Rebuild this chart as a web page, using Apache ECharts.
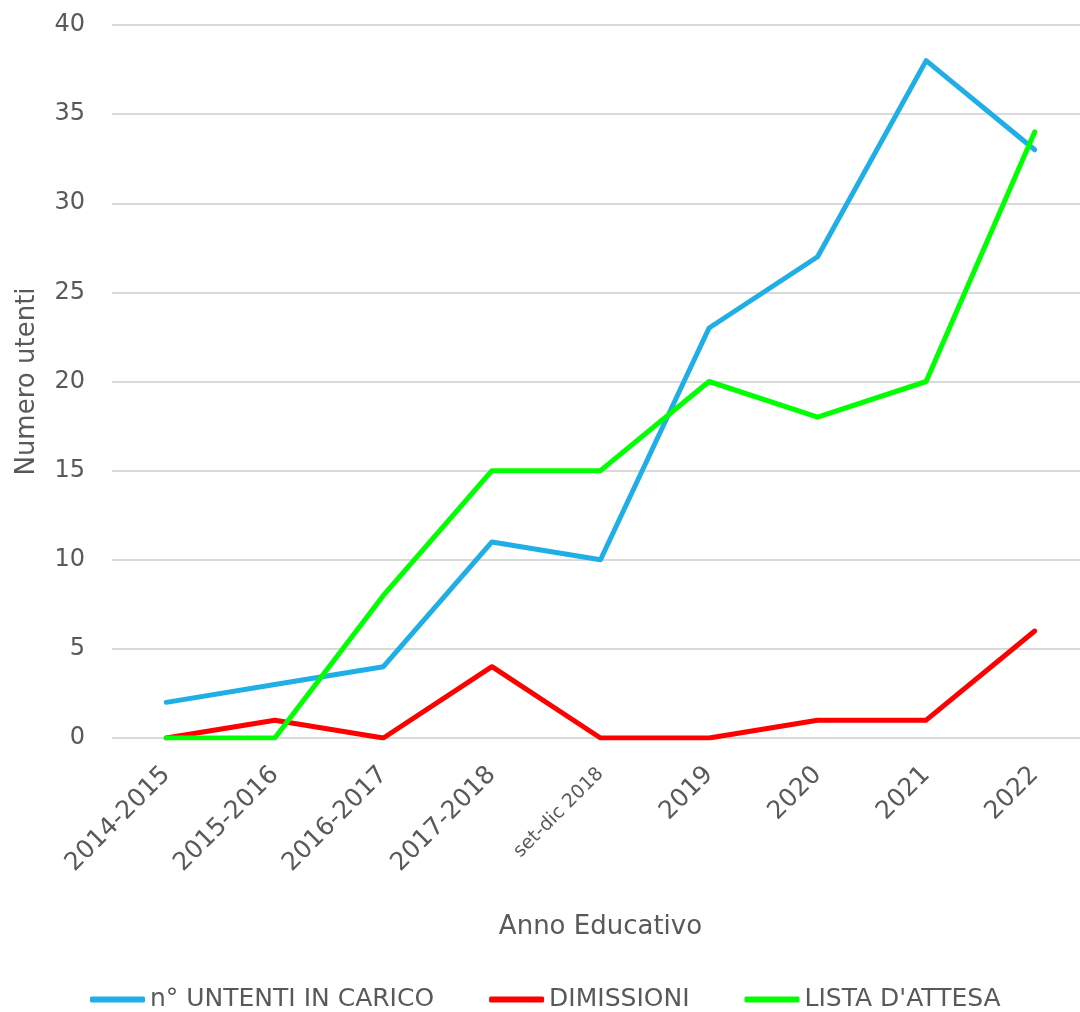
<!DOCTYPE html>
<html>
<head>
<meta charset="utf-8">
<script src="https://cdn.jsdelivr.net/npm/echarts@6/dist/echarts.min.js"></script>
<style>html,body{margin:0;padding:0;background:#fff;overflow:hidden}#c{width:1100px;height:1012px}</style>
</head>
<body>
<div id="c"></div>
<script>
const categories = ['2014-2015','2015-2016','2016-2017','2017-2018','set-dic 2018','2019','2020','2021','2022'];
const utentiInCarico = [2,3,4,11,10,23,27,38,33];
const dimissioni = [0,1,0,4,0,0,1,1,6];
const listaAttesa = [0,0,8,15,15,20,18,20,34];
const yTicks = {min:0, max:40, interval:5};

const FONT = '"DejaVu Sans", sans-serif';
const TXT = '#595959';
const chart = echarts.init(document.getElementById('c'));
function line(name, data, color){
  return {name, type:'line', data, symbol:'none', smooth:false,
    lineStyle:{color, width:5, cap:'round', join:'round'}, itemStyle:{color}};
}
chart.setOption({
  animation:false,
  textStyle:{fontFamily:FONT},
  grid:{left:112, width:977, top:25, height:713, containLabel:false},
  xAxis:{type:'category', data:categories, boundaryGap:true,
    name:'Anno Educativo', nameLocation:'middle', nameGap:176,
    nameTextStyle:{color:TXT, fontSize:26, fontFamily:FONT},
    axisLine:{show:false}, axisTick:{show:false},
    axisLabel:{rotate:45, margin:33, color:TXT, fontSize:25, fontFamily:FONT, interval:0,
      formatter:v => v === 'set-dic 2018' ? '{s|' + v + '}' : v,
      rich:{s:{fontSize:19, color:TXT, fontFamily:FONT}}}
  },
  yAxis:{type:'value', min:yTicks.min, max:yTicks.max, interval:yTicks.interval,
    name:'Numero utenti', nameLocation:'middle', nameGap:72, nameRotate:90,
    nameTextStyle:{color:TXT, fontSize:26, fontFamily:FONT},
    axisLine:{show:false}, axisTick:{show:false},
    axisLabel:{margin:27, color:TXT, fontSize:24, fontFamily:FONT},
    splitLine:{lineStyle:{color:'#d9d9d9', width:2}}
  },
  legend:{bottom:0, left:90, padding:0, itemWidth:55, itemHeight:6, itemGap:55,
    icon:'roundRect',
    textStyle:{color:TXT, fontSize:25, fontFamily:FONT},
    data:['n° UNTENTI IN CARICO','DIMISSIONI',"LISTA D'ATTESA"]},
  series:[
    line('n° UNTENTI IN CARICO', utentiInCarico, '#1FAEE6'),
    line('DIMISSIONI', dimissioni, '#FF0000'),
    line("LISTA D'ATTESA", listaAttesa, '#00FF00')
  ]
});
</script>
</body>
</html>
